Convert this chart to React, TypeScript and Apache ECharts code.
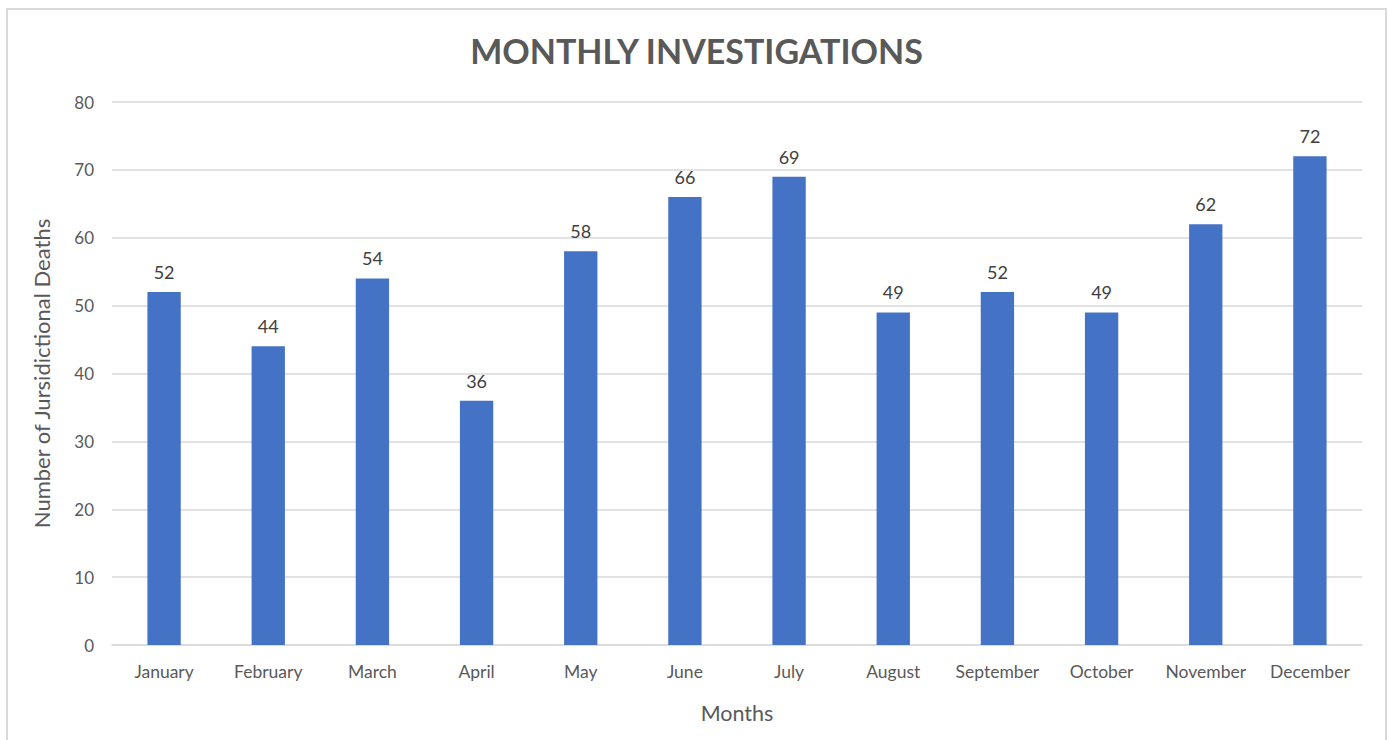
import React, { useEffect, useRef } from "react";
import * as echarts from "echarts";

const months = ["January", "February", "March", "April", "May", "June", "July", "August", "September", "October", "November", "December"];
const investigations = [52, 44, 54, 36, 58, 66, 69, 49, 52, 49, 62, 72];
const yTicks = { min: 0, max: 80, interval: 10 };

const FONT = "Lato, 'Open Sans', sans-serif";

export default function App() {
  const ref = useRef<HTMLDivElement>(null);
  useEffect(() => {
    if (!ref.current) return;
    const chart = echarts.init(ref.current, null, { renderer: "svg" });
    chart.setOption({
      animation: false,
      backgroundColor: "#ffffff",
      textStyle: { fontFamily: FONT },
      title: {
        text: "MONTHLY INVESTIGATIONS",
        left: "center",
        top: 18,
        textStyle: { fontFamily: FONT, fontSize: 34, fontWeight: "bold", color: "#595959" },
      },
      grid: { left: 104, top: 92, width: 1250, height: 543 },
      xAxis: {
        type: "category",
        data: months,
        name: "Months",
        nameLocation: "middle",
        nameGap: 57,
        nameTextStyle: { fontSize: 21.5, color: "#595959", fontFamily: FONT },
        axisLine: { show: true, lineStyle: { color: "#d9d9d9", width: 1.5 } },
        axisTick: { show: false },
        axisLabel: { color: "#595959", fontSize: 17.5, margin: 17, interval: 0, fontFamily: FONT },
      },
      yAxis: {
        type: "value",
        min: yTicks.min,
        max: yTicks.max,
        interval: yTicks.interval,
        name: "Number of Jursidictional Deaths",
        nameLocation: "middle",
        nameGap: 60,
        nameRotate: 90,
        nameTextStyle: { fontSize: 22, color: "#595959", fontFamily: FONT },
        axisLine: { show: false },
        axisTick: { show: false },
        axisLabel: { color: "#595959", fontSize: 17, margin: 18, fontFamily: FONT },
        splitLine: { lineStyle: { color: "#d9d9d9", width: 1.5 } },
      },
      series: [
        {
          type: "bar",
          data: investigations,
          barWidth: "32%",
          itemStyle: { color: "#4472C4" },
          label: {
            show: true,
            position: "top",
            distance: 11,
            color: "#404040",
            fontSize: 18,
            fontFamily: FONT,
          },
        },
      ],
    });
    return () => chart.dispose();
  }, []);
  return (
    <div
      style={{
        position: "absolute",
        left: 6,
        top: 8,
        width: 1381,
        height: 740,
        border: "2px solid #d9d9d9",
        boxSizing: "border-box",
        background: "#fff",
      }}
    >
      <div ref={ref} style={{ width: 1377, height: 736 }} />
    </div>
  );
}
